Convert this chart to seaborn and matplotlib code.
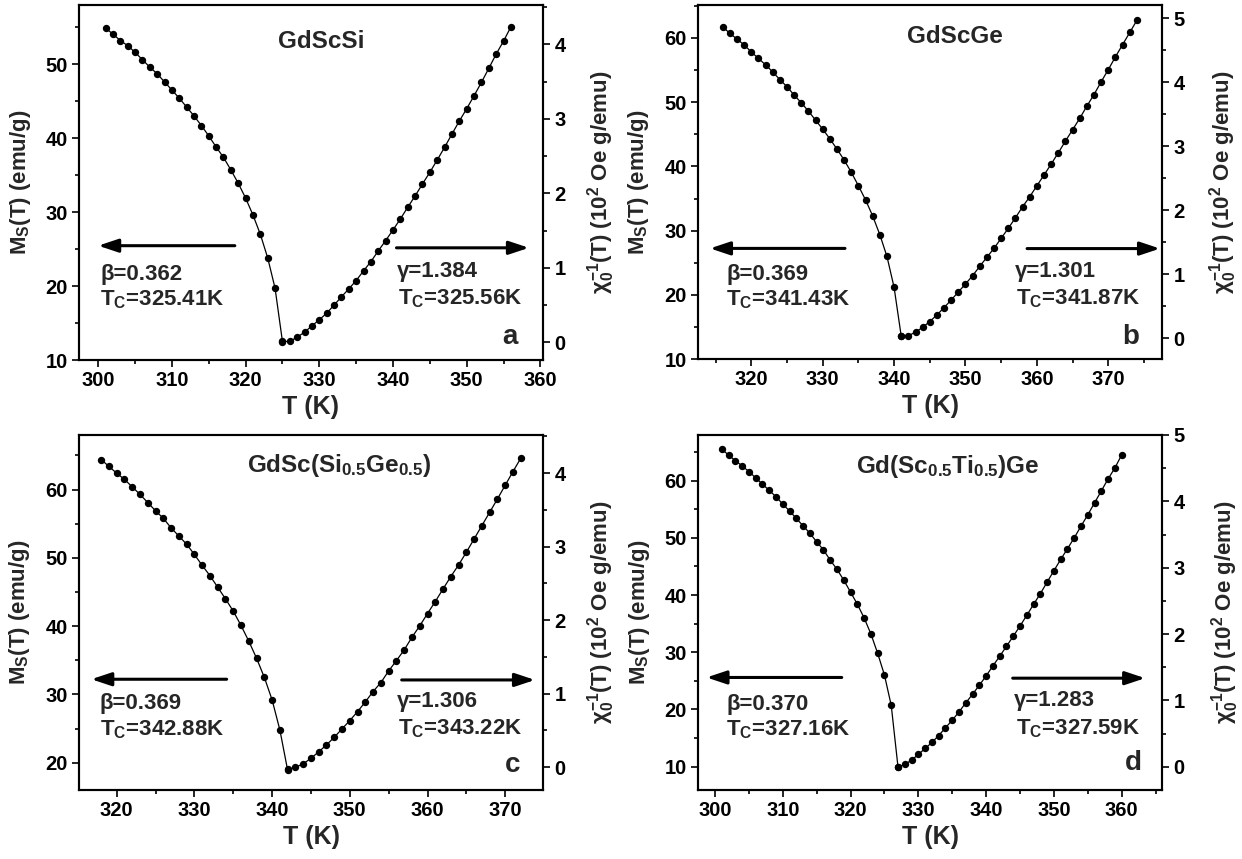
import matplotlib
matplotlib.use("Agg")
import matplotlib.pyplot as plt
import seaborn as sns
from matplotlib.ticker import MultipleLocator

# ---------------- data ----------------
# Panel a : GdScSi
Ta_M = [301, 302, 303, 304, 305, 306, 307, 308, 309, 310, 311, 312, 313,
        314, 315, 316, 317, 318, 319, 320, 321, 322, 323, 324, 325]
Ma = [54.9, 54.05, 53.2, 52.5, 51.6, 50.6, 49.6, 48.7, 47.6, 46.5, 45.4, 44.2,
      43.0, 41.7, 40.3, 38.8, 37.4, 35.7, 33.9, 31.9, 29.6, 27.0, 23.8, 19.7, 12.5]
Ta_X = [325, 326, 327, 328, 329, 330, 331, 332, 333, 334, 335, 336, 337, 338,
        339, 340, 341, 342, 343, 344, 345, 346, 347, 348, 349, 350, 351, 352,
        353, 354, 355, 356]
Xa = [0.01, 0.01, 0.067, 0.134, 0.219, 0.30, 0.389, 0.497, 0.608, 0.715, 0.827,
      0.957, 1.082, 1.225, 1.364, 1.507, 1.655, 1.812, 1.964, 2.125, 2.282,
      2.447, 2.617, 2.796, 2.970, 3.136, 3.31, 3.49, 3.678, 3.87, 4.044, 4.236]

# Panel b : GdScGe
Tb_M = [316, 317, 318, 319, 320, 321, 322, 323, 324, 325, 326, 327, 328, 329,
        330, 331, 332, 333, 334, 335, 336, 337, 338, 339, 340, 341]
Mb = [61.7, 60.7, 59.8, 58.9, 57.8, 56.8, 55.8, 54.7, 53.5, 52.4, 51.1, 49.9,
      48.6, 47.2, 45.8, 44.3, 42.7, 41.0, 39.1, 37.0, 34.8, 32.3, 29.4, 26.0,
      21.2, 13.6]
Tb_X = [341, 342, 343, 344, 345, 346, 347, 348, 349, 350, 351, 352, 353, 354,
        355, 356, 357, 358, 359, 360, 361, 362, 363, 364, 365, 366, 367, 368,
        369, 370, 371, 372, 373, 374]
Xb = [0.036, 0.04, 0.094, 0.17, 0.26, 0.364, 0.478, 0.598, 0.723, 0.848, 0.978,
      1.125, 1.266, 1.406, 1.563, 1.719, 1.884, 2.056, 2.213, 2.384, 2.552,
      2.723, 2.9, 3.083, 3.26, 3.438, 3.63, 3.81, 4.01, 4.20, 4.40, 4.59, 4.78,
      4.97]

# Panel c : GdSc(Si0.5Ge0.5)
Tc_M = [318, 319, 320, 321, 322, 323, 324, 325, 326, 327, 328, 329, 330, 331,
        332, 333, 334, 335, 336, 337, 338, 339, 340, 341, 342]
Mc = [64.4, 63.4, 62.4, 61.5, 60.4, 59.3, 58.1, 56.9, 55.8, 54.4, 53.2, 52.0,
      50.5, 48.9, 47.4, 45.7, 44.0, 42.2, 40.1, 37.8, 35.3, 32.5, 29.2, 24.8, 18.9]
Tc_X = [342, 343, 344, 345, 346, 347, 348, 349, 350, 351, 352, 353, 354, 355,
        356, 357, 358, 359, 360, 361, 362, 363, 364, 365, 366, 367, 368, 369,
        370, 371, 372]
Xc = [-0.03, 0.0, 0.045, 0.122, 0.209, 0.304, 0.408, 0.522, 0.635, 0.757, 0.889,
      1.03, 1.152, 1.31, 1.451, 1.596, 1.769, 1.923, 2.091, 2.254, 2.426, 2.594,
      2.753, 2.925, 3.107, 3.288, 3.469, 3.65, 3.837, 4.023, 4.204]

# Panel d : Gd(Sc0.5Ti0.5)Ge
Td_M = [301, 302, 303, 304, 305, 306, 307, 308, 309, 310, 311, 312, 313, 314,
        315, 316, 317, 318, 319, 320, 321, 322, 323, 324, 325, 326, 327]
Md = [65.5, 64.5, 63.5, 62.6, 61.6, 60.5, 59.4, 58.3, 57.2, 55.9, 54.7, 53.4,
      52.1, 50.8, 49.3, 47.9, 46.1, 44.5, 42.6, 40.5, 38.4, 36.0, 33.2, 29.8,
      26.0, 20.7, 9.9]
Td_X = [327, 328, 329, 330, 331, 332, 333, 334, 335, 336, 337, 338, 339, 340,
        341, 342, 343, 344, 345, 346, 347, 348, 349, 350, 351, 352, 353, 354,
        355, 356, 357, 358, 359, 360]
Xd = [0.0, 0.035, 0.1, 0.186, 0.276, 0.366, 0.471, 0.587, 0.702, 0.827, 0.963,
      1.093, 1.229, 1.369, 1.52, 1.665, 1.815, 1.966, 2.121, 2.282, 2.447, 2.608,
      2.783, 2.954, 3.124, 3.285, 3.45, 3.626, 3.796, 3.977, 4.157, 4.338, 4.503,
      4.699]

titles = ["GdScSi", "GdScGe", r"GdSc(Si$_{0.5}$Ge$_{0.5}$)",
          r"Gd(Sc$_{0.5}$Ti$_{0.5}$)Ge"]
letters = ["a", "b", "c", "d"]
betas = ["0.362", "0.369", "0.369", "0.370"]
tc_left = ["325.41", "341.43", "342.88", "327.16"]
gammas = ["1.384", "1.301", "1.306", "1.283"]
tc_right = ["325.56", "341.87", "343.22", "327.59"]

# ---------------- style ----------------
sns.set_style("ticks")
plt.rcParams.update({
    "font.family": ["Liberation Sans", "DejaVu Sans"],
    "font.weight": "bold",
    "axes.labelweight": "bold",
    "mathtext.fontset": "custom",
    "mathtext.rm": "Liberation Sans:bold",
    "mathtext.it": "Liberation Sans:bold",
    "mathtext.bf": "Liberation Sans:bold",
    "mathtext.sf": "Liberation Sans:bold",
    "axes.linewidth": 1.5,
    "axes.edgecolor": "black",
    "xtick.color": "black",
    "ytick.color": "black",
    "xtick.major.width": 1.2,
    "ytick.major.width": 1.2,
    "xtick.minor.width": 1.2,
    "ytick.minor.width": 1.2,
    "xtick.major.size": 5,
    "ytick.major.size": 5,
    "xtick.minor.size": 3,
    "ytick.minor.size": 3,
    "xtick.direction": "out",
    "ytick.direction": "out",
})

W, H = 1242, 859
fig = plt.figure(figsize=(W / 100, H / 100), dpi=100)


def rect(l, r, t, b):
    return [l / W, 1 - b / H, (r - l) / W, (b - t) / H]


cfg = [
    dict(rect=rect(78.7, 543.3, 5, 360), TM=Ta_M, M=Ma, TX=Ta_X, X=Xa,
         xlim=(297.35, 360.4), xticks=(300, 360), ylim=(10, 58), yticks=(10, 50),
         ylim2=(-0.24, 4.53), yticks2=(0, 4),
         title=(0.523, 0.897), larr=(0.336, 0.042, 0.322), rarr=(0.684, 0.969, 0.316),
         beta=(0.046, 0.242), tcl=(0.046, 0.169), gam=(0.684, 0.249), tcr=(0.688, 0.174),
         let=(0.929, 0.066), ylab=-0.098, ylab2=1.089),
    dict(rect=rect(697.7, 1162.3, 5, 359.3), TM=Tb_M, M=Mb, TX=Tb_X, X=Xb,
         xlim=(312.5, 377.56), xticks=(320, 370), ylim=(10, 65.1), yticks=(10, 60),
         ylim2=(-0.33, 5.21), yticks2=(0, 5),
         title=(0.554, 0.911), larr=(0.317, 0.0265, 0.313), rarr=(0.709, 0.995, 0.3125),
         beta=(0.061, 0.238), tcl=(0.061, 0.167), gam=(0.683, 0.247), tcr=(0.685, 0.172),
         let=(0.931, 0.064), ylab=-0.101, ylab2=1.0955),
    dict(rect=rect(79, 543.3, 435, 790), TM=Tc_M, M=Mc, TX=Tc_X, X=Xc,
         xlim=(315.15, 374.9), xticks=(320, 370), ylim=(16, 68), yticks=(20, 60),
         ylim2=(-0.31, 4.52), yticks2=(0, 4),
         title=(0.561, 0.915), larr=(0.318, 0.0265, 0.312), rarr=(0.695, 0.982, 0.31),
         beta=(0.045, 0.244), tcl=(0.045, 0.169), gam=(0.684, 0.249), tcr=(0.688, 0.174),
         let=(0.935, 0.070), ylab=-0.102, ylab2=1.09),
    dict(rect=rect(697.7, 1162.3, 435, 790), TM=Td_M, M=Md, TX=Td_X, X=Xd,
         xlim=(297.44, 366.0), xticks=(300, 360), ylim=(5.9, 68), yticks=(10, 60),
         ylim2=(-0.35, 5.0), yticks2=(0, 5),
         title=(0.539, 0.911), larr=(0.31, 0.019, 0.317), rarr=(0.678, 0.963, 0.315),
         beta=(0.061, 0.242), tcl=(0.061, 0.171), gam=(0.681, 0.251), tcr=(0.685, 0.174),
         let=(0.938, 0.075), ylab=-0.099, ylab2=1.10),
]

TICK_FS = 14.5
LAB_FS = 16
ANN_FS = 16
line_kw = dict(color="black", marker="o", markersize=5.3, markeredgewidth=0,
               linewidth=0.9)

for i, c in enumerate(cfg):
    ax = fig.add_axes(c["rect"])
    ax2 = ax.twinx()

    sns.lineplot(x=c["TM"], y=c["M"], ax=ax, **line_kw)
    sns.lineplot(x=c["TX"], y=c["X"], ax=ax2, **line_kw)

    ax.set_xlim(*c["xlim"])
    ax.set_ylim(*c["ylim"])
    ax2.set_ylim(*c["ylim2"])

    ax.set_xticks(list(range(c["xticks"][0], c["xticks"][1] + 1, 10)))
    ax.xaxis.set_minor_locator(MultipleLocator(5))
    ax.set_yticks(list(range(c["yticks"][0], c["yticks"][1] + 1, 10)))
    ax.yaxis.set_minor_locator(MultipleLocator(5))
    ax2.set_yticks(list(range(c["yticks2"][0], c["yticks2"][1] + 1, 1)))
    ax2.yaxis.set_minor_locator(MultipleLocator(0.5))

    ax.tick_params(axis="both", which="both", direction="out", top=False,
                   right=False, labelsize=TICK_FS, pad=3)
    ax2.tick_params(axis="y", which="both", direction="out", right=True,
                    left=False, labelsize=TICK_FS, pad=3)
    for lab in ax.get_xticklabels() + ax.get_yticklabels() + ax2.get_yticklabels():
        lab.set_fontweight("bold")

    ax.set_xlabel("T (K)", fontsize=18, fontweight="bold")
    ax.xaxis.set_label_coords(0.5, -0.098)
    ax.set_ylabel(r"M$_\mathrm{S}$(T) (emu/g)", fontsize=LAB_FS, fontweight="bold")
    ax.yaxis.set_label_coords(c["ylab"], 0.5)
    ax2.set_ylabel(r"χ$_0^{-1}$(T) (10$^2$ Oe g/emu)", fontsize=LAB_FS,
                   fontweight="bold")
    ax2.yaxis.set_label_coords(c["ylab2"], 0.5)

    ax.text(c["title"][0], c["title"][1], titles[i], transform=ax.transAxes,
            ha="center", va="center", fontsize=17.5, fontweight="bold")
    ax.text(c["let"][0], c["let"][1], letters[i], transform=ax.transAxes,
            ha="center", va="center", fontsize=20, fontweight="bold")

    arrow_kw = dict(arrowstyle="-|>,head_length=0.6,head_width=0.2", lw=2.2,
                    color="black", shrinkA=0, shrinkB=0, mutation_scale=20)
    x0, x1, y = c["larr"]
    ax.annotate("", xy=(x1, y), xytext=(x0, y), xycoords="axes fraction",
                textcoords="axes fraction", arrowprops=arrow_kw)
    x0, x1, y = c["rarr"]
    ax.annotate("", xy=(x1, y), xytext=(x0, y), xycoords="axes fraction",
                textcoords="axes fraction", arrowprops=arrow_kw)

    ax.text(c["beta"][0], c["beta"][1], "β=" + betas[i], transform=ax.transAxes,
            ha="left", va="center", fontsize=ANN_FS, fontweight="bold")
    ax.text(c["tcl"][0], c["tcl"][1], r"T$_\mathrm{C}$=" + tc_left[i] + "K",
            transform=ax.transAxes, ha="left", va="center", fontsize=ANN_FS,
            fontweight="bold")
    ax.text(c["gam"][0], c["gam"][1], "γ=" + gammas[i], transform=ax.transAxes,
            ha="left", va="center", fontsize=ANN_FS, fontweight="bold")
    ax.text(c["tcr"][0], c["tcr"][1], r"T$_\mathrm{C}$=" + tc_right[i] + "K",
            transform=ax.transAxes, ha="left", va="center", fontsize=ANN_FS,
            fontweight="bold")

fig.savefig("out.png", dpi=100)
